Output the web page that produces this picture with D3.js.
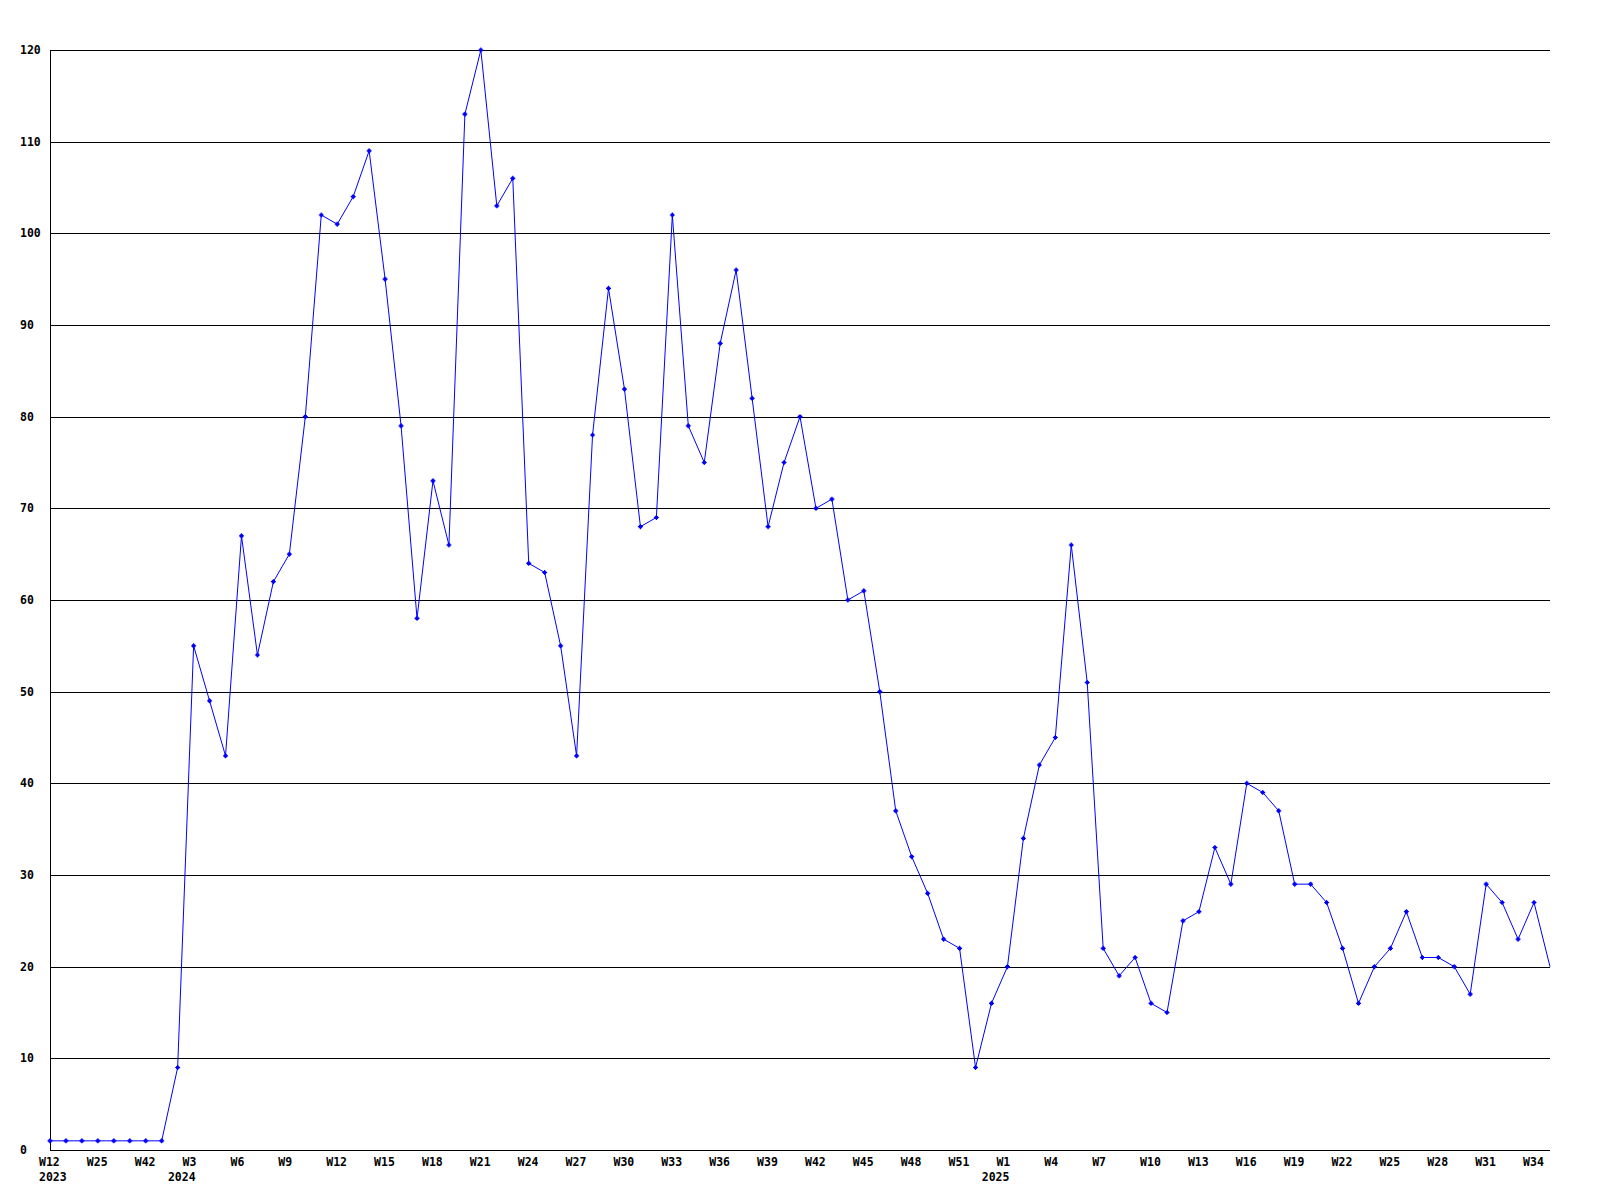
<!DOCTYPE html>
<html>
<head>
<meta charset="utf-8">
<script src="https://cdn.jsdelivr.net/npm/d3@7"></script>
<style>
  html, body { margin: 0; padding: 0; background: #fff; }
  svg { display: block; }
  text { font-family: "DejaVu Sans Mono", "Liberation Mono", monospace; font-weight: bold; font-size: 11.5px; fill: #000; }
</style>
</head>
<body>
<svg id="chart" width="1600" height="1200"></svg>
<script>
// ---- data ----
const values = [1,1,1,1,1,1,1,1,9,55,49,43,67,54,62,65,80,102,101,104,109,95,79,58,73,66,113,120,103,106,64,63,55,43,78,94,83,68,69,102,79,75,88,96,82,68,75,80,70,71,60,61,50,37,32,28,23,22,9,16,20,34,42,45,66,51,22,19,21,16,15,25,26,33,29,40,39,37,29,29,27,22,16,20,22,26,21,21,20,17,29,27,23,27,20];
const tickLabels = ["W12","W25","W42","W3","W6","W9","W12","W15","W18","W21","W24","W27","W30","W33","W36","W39","W42","W45","W48","W51","W1","W4","W7","W10","W13","W16","W19","W22","W25","W28","W31","W34"];
const yearLabels = [{tick: 0, label: "2023"}, {tick: 3, label: "2024"}, {tick: 20, label: "2025"}];
const yTicks = [0,10,20,30,40,50,60,70,80,90,100,110,120];
const tickEvery = 3;

// ---- layout ----
const mLeft = 50, mRight = 1550, mTop = 50, mBottom = 1150;
const svg = d3.select("#chart");
svg.append("rect").attr("width", 1600).attr("height", 1200).attr("fill", "#fff");

const x = d3.scaleLinear().domain([0, values.length - 1]).range([mLeft, mRight]);
const y = d3.scaleLinear().domain([0, 120]).range([mBottom, mTop]);

// gridlines
svg.append("g").selectAll("line").data(yTicks.filter(d => d > 0)).join("line")
  .attr("x1", mLeft).attr("x2", mRight)
  .attr("y1", d => Math.round(y(d)) + 0.5).attr("y2", d => Math.round(y(d)) + 0.5)
  .attr("stroke", "#000").attr("stroke-width", 1).attr("shape-rendering", "crispEdges");

// axes lines
svg.append("line").attr("x1", mLeft + 0.5).attr("x2", mLeft + 0.5).attr("y1", mTop).attr("y2", mBottom + 1)
  .attr("stroke", "#000").attr("shape-rendering", "crispEdges");
svg.append("line").attr("x1", mLeft).attr("x2", mRight).attr("y1", mBottom + 0.5).attr("y2", mBottom + 0.5)
  .attr("stroke", "#000").attr("shape-rendering", "crispEdges");

// y labels (left aligned)
svg.append("g").selectAll("text").data(yTicks).join("text")
  .attr("x", 20).attr("y", d => y(d) + 4)
  .attr("text-anchor", "start").text(d => d);

// x labels (left aligned slightly before tick)
const xl = svg.append("g");
tickLabels.forEach((lab, i) => {
  const px = x(i * tickEvery);
  xl.append("text").attr("x", px - 11).attr("y", mBottom + 16).attr("text-anchor", "start").text(lab);
});
yearLabels.forEach(d => {
  const px = x(d.tick * tickEvery);
  const wl = tickLabels[d.tick].length * 7 - 1;
  if (d.tick === 0) {
    xl.append("text").attr("x", px - 11).attr("y", mBottom + 31).attr("text-anchor", "start").text(d.label);
  } else {
    xl.append("text").attr("x", px - 11 + wl).attr("y", mBottom + 31).attr("text-anchor", "end").text(d.label);
  }
});

// line
const line = d3.line().x((d, i) => x(i)).y(d => y(d));
svg.append("path").datum(values).attr("d", line)
  .attr("fill", "none").attr("stroke", "#0000ff").attr("stroke-width", 1);

// markers (none on last point)
svg.append("g").selectAll("path").data(values.slice(0, -1)).join("path")
  .attr("transform", (d, i) => `translate(${x(i)},${y(d)})`)
  .attr("d", "M-2.5,0H2.5M0,-2.5V2.5M-1,-1H1V1H-1Z")
  .attr("stroke", "#0000ff").attr("stroke-width", 1.2).attr("fill", "#0000ff");
</script>
</body>
</html>
